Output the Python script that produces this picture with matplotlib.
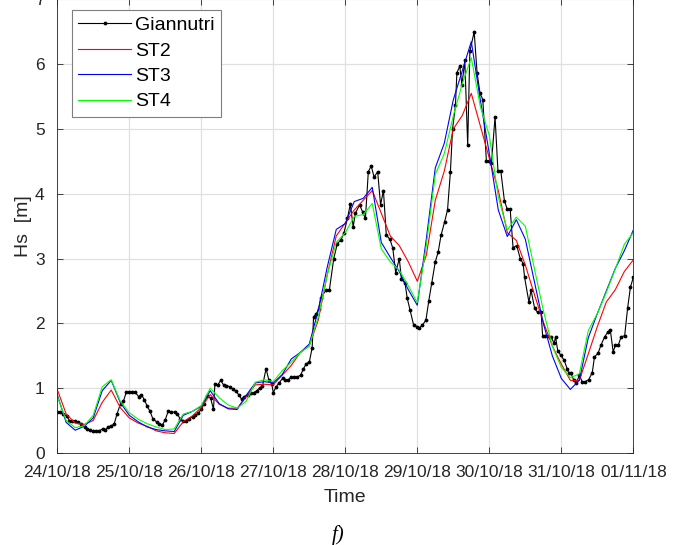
import numpy as np
import matplotlib
matplotlib.use("Agg")
import matplotlib.pyplot as plt

plt.rcParams['font.family'] = ['Liberation Sans', 'DejaVu Sans']

tick_labels = ["24/10/18", "25/10/18", "26/10/18", "27/10/18", "28/10/18",
               "29/10/18", "30/10/18", "31/10/18", "01/11/18"]

# Giannutri buoy: time in days from 24/10/18 00:00, Hs in m
gian_days = [0.00, 0.04, 0.08, 0.13, 0.17, 0.21, 0.25, 0.29, 0.33, 0.38, 0.42, 0.46,
             0.50, 0.54, 0.58, 0.63, 0.67, 0.71, 0.75, 0.79, 0.83, 0.88, 0.92, 0.96,
             1.00, 1.04, 1.08, 1.13, 1.17, 1.21, 1.25, 1.29, 1.33, 1.38, 1.42, 1.46,
             1.50, 1.54, 1.58, 1.63, 1.67, 1.71, 1.75, 1.79, 1.83, 1.88, 1.92, 1.96,
             2.00, 2.04, 2.08, 2.13, 2.17, 2.19, 2.23, 2.27, 2.31, 2.35, 2.40, 2.44,
             2.48, 2.52, 2.56, 2.60, 2.65, 2.69, 2.73, 2.77, 2.81, 2.85, 2.90, 2.94,
             2.98, 3.00, 3.04, 3.08, 3.13, 3.17, 3.21, 3.25, 3.29, 3.33, 3.38, 3.42,
             3.46, 3.50, 3.54, 3.56, 3.60, 3.63, 3.66, 3.73, 3.78, 3.84, 3.89, 3.94,
             3.98, 4.03, 4.07, 4.11, 4.14, 4.20, 4.24, 4.28, 4.32, 4.36, 4.40, 4.45,
             4.49, 4.53, 4.57, 4.62, 4.66, 4.70, 4.75, 4.78, 4.83, 4.86, 4.90, 4.95,
             5.00, 5.03, 5.07, 5.12, 5.16, 5.20, 5.25, 5.29, 5.33, 5.38, 5.42, 5.46,
             5.49, 5.53, 5.55, 5.59, 5.62, 5.66, 5.70, 5.73, 5.79, 5.83, 5.87, 5.91,
             5.96, 6.00, 6.03, 6.08, 6.12, 6.16, 6.21, 6.25, 6.29, 6.33, 6.38, 6.43,
             6.47, 6.49, 6.55, 6.58, 6.63, 6.67, 6.72, 6.74, 6.78, 6.82, 6.86, 6.90,
             6.92, 6.95, 6.99, 7.04, 7.08, 7.10, 7.13, 7.17, 7.21, 7.25, 7.29, 7.33,
             7.38, 7.43, 7.46, 7.51, 7.55, 7.60, 7.65, 7.68, 7.72, 7.75, 7.79, 7.83,
             7.88, 7.92, 7.96, 8.00]
gian_hs = [0.63, 0.63, 0.60, 0.57, 0.50, 0.49, 0.49, 0.48, 0.45, 0.40, 0.37, 0.35,
           0.34, 0.34, 0.34, 0.37, 0.36, 0.40, 0.42, 0.44, 0.60, 0.76, 0.80, 0.94,
           0.94, 0.94, 0.94, 0.87, 0.90, 0.82, 0.72, 0.64, 0.52, 0.48, 0.45, 0.43,
           0.51, 0.64, 0.63, 0.63, 0.60, 0.52, 0.49, 0.50, 0.53, 0.56, 0.58, 0.62,
           0.67, 0.76, 0.88, 0.85, 0.67, 1.07, 1.05, 1.12, 1.05, 1.04, 1.02, 0.98,
           0.95, 0.90, 0.83, 0.87, 0.90, 0.92, 0.93, 0.96, 1.00, 1.03, 1.30, 1.12,
           1.06, 0.93, 1.02, 1.08, 1.15, 1.13, 1.13, 1.17, 1.17, 1.17, 1.20, 1.30,
           1.38, 1.40, 1.62, 2.10, 2.15, 2.22, 2.39, 2.51, 2.52, 3.00, 3.23, 3.29,
           3.39, 3.62, 3.84, 3.49, 3.70, 3.83, 3.72, 3.62, 4.34, 4.43, 4.26, 4.34,
           3.83, 4.05, 3.36, 3.30, 3.16, 2.78, 3.00, 2.68, 2.62, 2.39, 2.20, 1.97,
           1.95, 1.93, 1.97, 2.05, 2.35, 2.62, 2.95, 3.10, 3.36, 3.57, 3.75, 4.34,
           5.00, 5.37, 5.87, 5.97, 5.68, 6.06, 4.75, 6.20, 6.50, 5.87, 5.56, 5.45,
           4.50, 4.50, 4.47, 5.19, 4.35, 4.35, 3.89, 3.76, 3.76, 3.17, 3.20, 3.00,
           2.92, 2.71, 2.33, 2.51, 2.23, 2.17, 2.17, 1.81, 1.81, 1.81, 1.79, 1.69,
           1.79, 1.58, 1.51, 1.43, 1.30, 1.24, 1.24, 1.13, 1.08, 1.20, 1.10, 1.10,
           1.13, 1.24, 1.48, 1.54, 1.66, 1.79, 1.87, 1.90, 1.56, 1.66, 1.66, 1.79,
           1.81, 2.23, 2.56, 2.71]

# model stations, 3-hourly from 24/10/18 00:00
model_days = [i * 0.125 for i in range(65)]
st2 = [0.98, 0.60, 0.46, 0.44, 0.50, 0.78, 0.97, 0.70, 0.54, 0.46, 0.41, 0.34, 0.31,
       0.30, 0.48, 0.57, 0.70, 0.90, 0.75, 0.69, 0.69, 0.87, 1.05, 1.06, 1.05, 1.20,
       1.35, 1.55, 1.65, 2.05, 2.75, 3.35, 3.55, 3.75, 3.90, 4.05, 3.70, 3.35, 3.20,
       2.95, 2.65, 3.05, 3.90, 4.35, 5.00, 5.21, 5.55, 5.05, 4.55, 4.05, 3.40, 3.28,
       2.90, 2.45, 2.02, 1.65, 1.37, 1.12, 1.12, 1.53, 1.95, 2.33, 2.52, 2.80, 2.98]
st3 = [0.90, 0.47, 0.35, 0.41, 0.54, 0.96, 1.12, 0.78, 0.58, 0.48, 0.40, 0.36, 0.34,
       0.33, 0.58, 0.64, 0.72, 0.96, 0.76, 0.68, 0.67, 0.89, 1.08, 1.10, 1.08, 1.21,
       1.45, 1.55, 1.68, 2.20, 2.87, 3.45, 3.54, 3.88, 3.93, 4.10, 3.25, 3.02, 2.80,
       2.52, 2.28, 3.30, 4.40, 4.78, 5.45, 5.90, 6.35, 5.45, 4.62, 3.75, 3.34, 3.60,
       3.30, 2.65, 2.00, 1.50, 1.15, 0.98, 1.12, 1.78, 2.15, 2.50, 2.85, 3.12, 3.44]
st4 = [0.88, 0.50, 0.39, 0.42, 0.58, 1.02, 1.13, 0.80, 0.62, 0.52, 0.45, 0.40, 0.36,
       0.37, 0.60, 0.64, 0.73, 1.00, 0.85, 0.74, 0.69, 0.80, 1.09, 1.13, 1.10, 1.27,
       1.40, 1.55, 1.65, 2.10, 2.75, 3.25, 3.40, 3.65, 3.68, 3.85, 3.15, 2.95, 2.82,
       2.58, 2.32, 3.20, 4.30, 4.62, 5.20, 5.70, 6.10, 5.35, 4.90, 3.95, 3.44, 3.64,
       3.50, 2.85, 2.20, 1.65, 1.32, 1.16, 1.22, 1.89, 2.15, 2.48, 2.84, 3.22, 3.40]

fig = plt.figure(figsize=(6.81, 5.45), dpi=100)
ax = fig.add_axes([0.084, 0.169, 0.846, 0.832])

ax.plot(gian_days, gian_hs, color='k', lw=0.8, marker='.', ms=3.5, label='Giannutri')
ax.plot(model_days, st2, color='r', lw=0.8, label='ST2')
ax.plot(model_days, st3, color='b', lw=0.8, label='ST3')
ax.plot(model_days, st4, color=(0, 1, 0), lw=0.8, label='ST4')

ax.set_xlim(0, 8)
ax.set_ylim(0, 7)
ax.set_xticks(range(9))
ax.set_xticklabels(tick_labels)
ax.set_yticks(range(8))
ax.grid(True, color='#e0e0e0', lw=0.9)
ax.set_axisbelow(True)
ax.tick_params(direction='in', top=True, right=True, labelsize=12.5,
               colors='#262626', length=4, width=0.6)
ax.tick_params(axis='x', pad=9)
ax.tick_params(axis='y', pad=9)
for s in ax.spines.values():
    s.set_color('#262626')
    s.set_linewidth(0.6)

ax.set_xlabel('Time', fontsize=14, color='#262626', labelpad=6)
ax.set_ylabel('Hs  [m]', fontsize=14, color='#262626', labelpad=2)

leg = ax.legend(loc='upper left', bbox_to_anchor=(0.025, 0.977), fontsize=14,
                handlelength=2.7, labelspacing=0.4, borderpad=0.35,
                handletextpad=0.2, borderaxespad=0, fancybox=False, framealpha=1)
leg.get_frame().set_edgecolor('#7f7f7f')
leg.get_frame().set_linewidth(0.8)

fig.text(0.497, 0.018, 'f)', fontsize=15, style='italic',
         family='Liberation Serif', ha='center', va='center')

fig.savefig('out.png', dpi=100)
